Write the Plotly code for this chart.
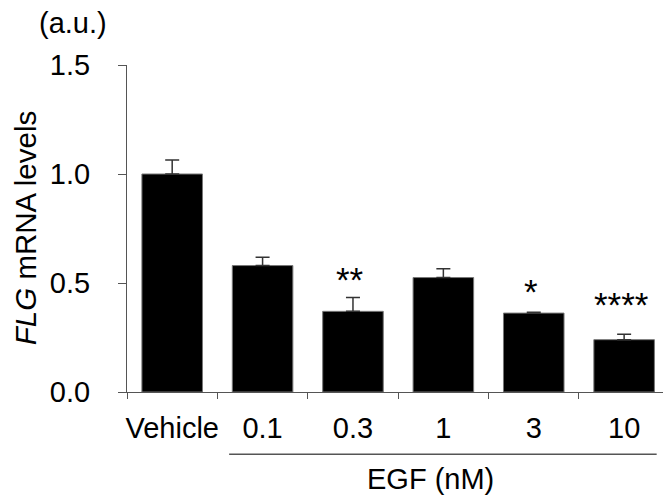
import plotly.graph_objects as go

categories = ["Vehicle", "0.1", "0.3", "1", "3", "10"]
values = [1.0, 0.580, 0.370, 0.525, 0.362, 0.240]
errors = [0.064, 0.038, 0.064, 0.040, 0.004, 0.025]
stars = ["", "", "**", "", "*", "****"]
star_y = [None, None, 0.535, None, 0.48, 0.42]
ytick_vals = [0, 0.5, 1.0, 1.5]
ytick_text = ["0.0", "0.5", "1.0", "1.5"]

FONT = "Liberation Sans, Arial, sans-serif"
AXC = "#555555"

fig = go.Figure()
fig.add_trace(go.Bar(
    x=categories, y=values,
    marker=dict(color="black", line=dict(color="#777777", width=1)),
    error_y=dict(type="data", array=errors, arrayminus=[0]*len(errors),
                 symmetric=False, color="#333333", thickness=1.5, width=7),
    showlegend=False,
))

for i, (s, yy) in enumerate(zip(stars, star_y)):
    if s:
        fig.add_annotation(x=i, y=yy, text=s, showarrow=False, xshift=-3, yshift=-4,
                           font=dict(family=FONT, size=35, color="black"),
                           yanchor="middle", xanchor="center")

fig.add_annotation(xref="paper", yref="paper", x=-0.189, y=0.5,
                   text="<i>FLG</i> mRNA levels", textangle=-90, showarrow=False,
                   xanchor="center", yanchor="middle",
                   font=dict(family=FONT, size=29.5, color="black"))
fig.add_annotation(xref="paper", yref="paper", x=-0.101, y=1.129,
                   text="(a.u.)", showarrow=False, xanchor="center", yanchor="middle",
                   font=dict(family=FONT, size=29, color="black"))
fig.add_annotation(xref="x", yref="paper", x=2.86, y=-0.267,
                   text="EGF (nM)", showarrow=False, xanchor="center", yanchor="middle",
                   font=dict(family=FONT, size=29, color="black"))
fig.add_shape(type="line", xref="x", yref="paper", x0=0.63, x1=5.36,
              y0=-0.19, y1=-0.19, line=dict(color="#555555", width=1.5))

fig.update_layout(
    width=663, height=497,
    margin=dict(l=127, r=0, t=65, b=105),
    plot_bgcolor="white", paper_bgcolor="white",
    bargap=0.33,
    font=dict(family=FONT, color="black"),
    xaxis=dict(type="category", categoryorder="array", categoryarray=categories,
               range=[-0.5, 5.43], tickson="boundaries", ticks="outside",
               ticklen=6, tickcolor=AXC, showline=True, linecolor=AXC, linewidth=1,
               showgrid=False, zeroline=False, ticklabelstandoff=10, tickangle=0,
               tickfont=dict(family=FONT, size=29, color="black")),
    yaxis=dict(range=[0, 1.5], tickvals=ytick_vals, ticktext=ytick_text,
               ticks="outside", ticklen=8, tickcolor=AXC, showline=True,
               linecolor=AXC, linewidth=1, showgrid=False, zeroline=False,
               ticklabelstandoff=22,
               tickfont=dict(family=FONT, size=29, color="black")),
)

fig.write_html("out.html")
